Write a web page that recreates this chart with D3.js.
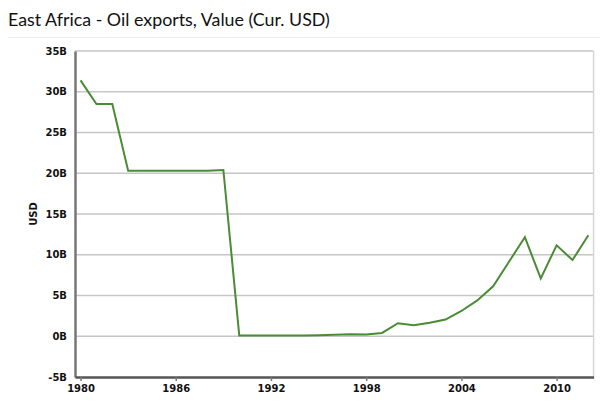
<!DOCTYPE html>
<html>
<head>
<meta charset="utf-8">
<script src="https://cdn.jsdelivr.net/npm/d3@7"></script>
<style>
  body { margin: 0; background: #fff; }
  svg { display: block; }
</style>
</head>
<body>
<svg id="chart" width="607" height="402"></svg>
<script>
const title = "East Africa - Oil exports, Value (Cur. USD)";
const yAxisLabel = "USD";
const years = [1980,1981,1982,1983,1984,1985,1986,1987,1988,1989,1990,1991,1992,1993,1994,1995,1996,1997,1998,1999,2000,2001,2002,2003,2004,2005,2006,2007,2008,2009,2010,2011,2012];
const values = [31.4,28.5,28.5,20.3,20.3,20.3,20.3,20.3,20.3,20.4,0.1,0.1,0.1,0.1,0.1,0.12,0.17,0.25,0.21,0.41,1.6,1.36,1.65,2.05,3.1,4.4,6.13,9.15,12.15,7.09,11.16,9.35,12.4];
const xTicks = [1980,1986,1992,1998,2004,2010];
const yTicks = [-5,0,5,10,15,20,25,30,35];

const svg = d3.select("#chart");

const t = svg.append("text")
  .attr("x", 8).attr("y", 26)
  .attr("font-family", "Lato, sans-serif")
  .attr("font-size", 20)
  .attr("fill", "#111")
  .text(title);
const tw = t.node().getComputedTextLength();
if (tw > 324) t.attr("font-size", 20 * 322 / tw);

svg.append("line")
  .attr("x1", 8).attr("x2", 600)
  .attr("y1", 37.5).attr("y2", 37.5)
  .attr("stroke", "#ececec").attr("stroke-width", 1);

const x = d3.scaleLinear().domain([1979.65, 2012.33]).range([75, 593.6]);
const y = d3.scaleLinear().domain([-5, 35]).range([377, 51]);

// gridlines
svg.append("g")
  .selectAll("line")
  .data(yTicks.filter(d => d > -5))
  .join("line")
  .attr("x1", x.range()[0]).attr("x2", x.range()[1])
  .attr("y1", d => y(d)).attr("y2", d => y(d))
  .attr("stroke", "#c6c6c6").attr("stroke-width", 1.5);

// right border
svg.append("line")
  .attr("x1", x.range()[1]).attr("x2", x.range()[1])
  .attr("y1", y(35)).attr("y2", y(-5))
  .attr("stroke", "#d6d6d6").attr("stroke-width", 1.5);

// y axis
const yAxis = svg.append("g")
  .attr("transform", `translate(${x.range()[0]},0)`)
  .call(d3.axisLeft(y).tickValues(yTicks).tickFormat(d => d + "B").tickSize(0).tickPadding(8));
yAxis.select(".domain").attr("stroke", "#777").attr("stroke-width", 2.5);
yAxis.selectAll("text")
  .attr("font-family", "'DejaVu Sans', sans-serif")
  .attr("font-weight", "bold")
  .attr("font-size", 10)
  .attr("fill", "#111");

// x axis
const xAxis = svg.append("g")
  .attr("transform", `translate(0,${y(-5)})`)
  .call(d3.axisBottom(x).tickValues(xTicks).tickFormat(d3.format("d")).tickSize(4).tickPadding(4).tickSizeOuter(0));
xAxis.select(".domain").attr("stroke", "#555").attr("stroke-width", 2.5);
xAxis.selectAll(".tick line").attr("stroke", "#777").attr("stroke-width", 1.5);
xAxis.selectAll("text")
  .attr("font-family", "'DejaVu Sans', sans-serif")
  .attr("font-weight", "bold")
  .attr("font-size", 10)
  .attr("fill", "#111");

// y axis label
svg.append("text")
  .attr("transform", `translate(37,${(y(35)+y(-5))/2}) rotate(-90)`)
  .attr("text-anchor", "middle")
  .attr("font-family", "'DejaVu Sans', sans-serif")
  .attr("font-weight", "bold")
  .attr("font-size", 10)
  .attr("fill", "#111")
  .text(yAxisLabel);

// line
const data = years.map((yr, i) => ({ yr, v: values[i] }));
svg.append("path")
  .datum(data)
  .attr("fill", "none")
  .attr("stroke", "#4a8c35")
  .attr("stroke-width", 2)
  .attr("stroke-linejoin", "miter")
  .attr("d", d3.line().x(d => x(d.yr)).y(d => y(d.v)));
</script>
</body>
</html>
